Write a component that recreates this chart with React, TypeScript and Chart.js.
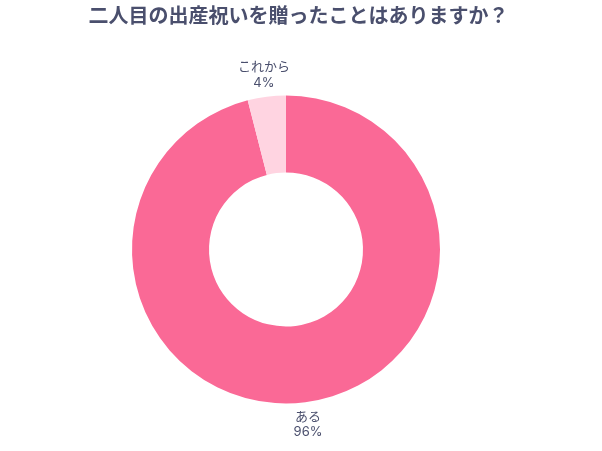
import React, { useEffect, useRef } from "react";
import { Chart, registerables } from "chart.js";

Chart.register(...registerables);

const TITLE = "二人目の出産祝いを贈ったことはありますか？";
const categories = ["ある", "これから"];
const values = [96, 4];
const colors = ["#FA6996", "#FFD4E1"];
const TEXT_COLOR = "#4A4F6D";
const FONT = "Inter, 'Noto Sans CJK JP', 'Noto Sans', sans-serif";

const labelPlugin = {
  id: "outerLabels",
  afterDatasetsDraw(chart: any) {
    const ctx = chart.ctx;
    const meta = chart.getDatasetMeta(0);
    const data = chart.data.datasets[0].data as number[];
    const total = data.reduce((a: number, b: number) => a + b, 0);
    ctx.save();
    ctx.fillStyle = TEXT_COLOR;
    ctx.font = `13px ${FONT}`;
    ctx.textAlign = "center";
    ctx.textBaseline = "middle";
    meta.data.forEach((arc: any, i: number) => {
      const p = arc.getProps(["x", "y", "startAngle", "endAngle", "outerRadius"], true);
      const mid = (p.startAngle + p.endAngle) / 2;
      const r = p.outerRadius + 22;
      const cx = p.x + Math.cos(mid) * r;
      const cy = p.y + Math.sin(mid) * r;
      const pct = Math.round((data[i] / total) * 100) + "%";
      ctx.fillText(chart.data.labels[i], cx, cy - 7.5);
      ctx.fillText(pct, cx, cy + 8);
    });
    ctx.restore();
  },
};

export default function App() {
  const canvasRef = useRef<HTMLCanvasElement | null>(null);

  useEffect(() => {
    if (!canvasRef.current) return;
    const chart = new Chart(canvasRef.current, {
      type: "doughnut",
      data: {
        labels: categories,
        datasets: [
          {
            data: values,
            backgroundColor: colors,
            borderWidth: 0,
          },
        ],
      },
      options: {
        animation: false,
        responsive: false,
        maintainAspectRatio: false,
        cutout: "50%",
        layout: { padding: { top: 95.5, bottom: 47.5, left: 0, right: 30 } },
        plugins: {
          legend: { display: false },
          tooltip: { enabled: false },
          title: { display: false },
        },
      },
      plugins: [labelPlugin],
    });
    return () => chart.destroy();
  }, []);

  return (
    <div style={{ position: "absolute", left: 0, top: 0, width: 602, height: 451, background: "#fff" }}>
      <canvas ref={canvasRef} width={602} height={451} style={{ width: 602, height: 451, display: "block" }} />
      <div
        style={{
          position: "absolute",
          top: 4,
          left: 0,
          width: 597,
          textAlign: "center",
          fontFamily: FONT,
          fontSize: 20,
          lineHeight: "24px",
          fontWeight: 700,
          color: TEXT_COLOR,
        }}
      >
        {TITLE}
      </div>
    </div>
  );
}
